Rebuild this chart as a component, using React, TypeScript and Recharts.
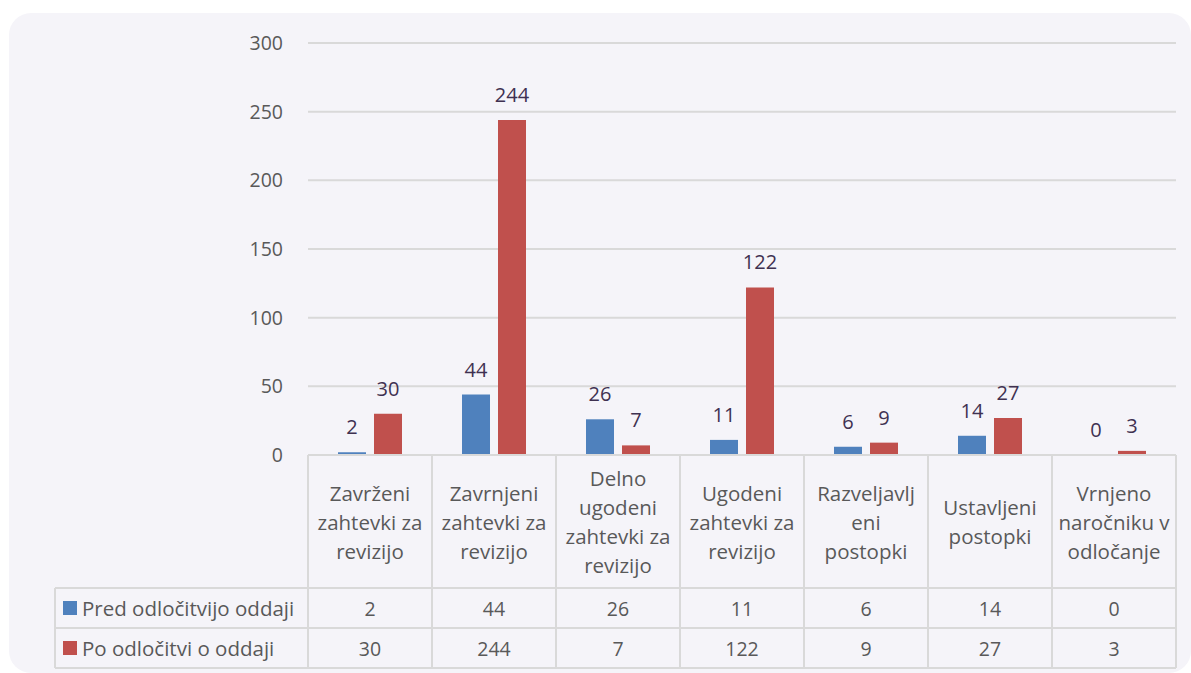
import { BarChart, Bar, XAxis, YAxis, CartesianGrid, LabelList } from 'recharts';

const categories = [
  'Zavrženi zahtevki za revizijo',
  'Zavrnjeni zahtevki za revizijo',
  'Delno ugodeni zahtevki za revizijo',
  'Ugodeni zahtevki za revizijo',
  'Razveljavljeni postopki',
  'Ustavljeni postopki',
  'Vrnjeno naročniku v odločanje',
];
// wrapped the way the original data table shows them
const tickLines = [
  ['Zavrženi', 'zahtevki za', 'revizijo'],
  ['Zavrnjeni', 'zahtevki za', 'revizijo'],
  ['Delno', 'ugodeni', 'zahtevki za', 'revizijo'],
  ['Ugodeni', 'zahtevki za', 'revizijo'],
  ['Razveljavlj', 'eni', 'postopki'],
  ['Ustavljeni', 'postopki'],
  ['Vrnjeno', 'naročniku v', 'odločanje'],
];
const predValues = [2, 44, 26, 11, 6, 14, 0];
const poValues = [30, 244, 7, 122, 9, 27, 3];
const seriesNames = ['Pred odločitvijo oddaji', 'Po odločitvi o oddaji'];
const seriesColors = ['#4F81BD', '#C0504D'];
const yTicks = [0, 50, 100, 150, 200, 250, 300];

const data = categories.map((name, i) => ({ name, pred: predValues[i], po: poValues[i] }));

const FONT = '"Open Sans", "Noto Sans", sans-serif';
const GRID = '#D9D9D9';
const TEXT = '#595959';
const LABEL_ROW = 133;
const ROW = 40;
const TABLE_LEFT = 46; // svg x of the legend column's left edge

function TableTick(props: any) {
  const { x, y, payload, index } = props;
  const half = payload?.offset ?? 62;
  const lines = tickLines[index] ?? [];
  const left = x - half;
  const right = x + half;
  const mid = y + LABEL_ROW / 2;
  const r1 = y + LABEL_ROW;
  const r2 = r1 + ROW;
  const r3 = r2 + ROW;
  const values = [predValues[index], poValues[index]];
  return (
    <g fontFamily={FONT} fill={TEXT}>
      {lines.map((t: string, i: number) => (
        <text key={i} x={x} y={mid + (i - (lines.length - 1) / 2) * 29} textAnchor="middle" dominantBaseline="central" fontSize={20.5} fill={TEXT}>
          {t}
        </text>
      ))}
      {values.map((v, i) => (
        <text key={'v' + i} x={x} y={r1 + ROW * i + ROW / 2} textAnchor="middle" dominantBaseline="central" fontSize={19.5} fill={TEXT}>
          {v}
        </text>
      ))}
      <g stroke={GRID} strokeWidth={2}>
        <line x1={right} y1={y} x2={right} y2={r3} />
        <line x1={left} y1={r1} x2={right} y2={r1} />
        <line x1={left} y1={r2} x2={right} y2={r2} />
        <line x1={left} y1={r3} x2={right} y2={r3} />
        {index === 0 && <line x1={left} y1={y} x2={left} y2={r3} />}
      </g>
      {index === 0 && (
        <g>
          <g stroke={GRID} strokeWidth={2}>
            <line x1={TABLE_LEFT} y1={r1} x2={left} y2={r1} />
            <line x1={TABLE_LEFT} y1={r2} x2={left} y2={r2} />
            <line x1={TABLE_LEFT} y1={r3} x2={left} y2={r3} />
            <line x1={TABLE_LEFT} y1={r1} x2={TABLE_LEFT} y2={r3} />
          </g>
          {seriesNames.map((n, i) => (
            <g key={n}>
              <rect x={TABLE_LEFT + 8} y={r1 + ROW * i + ROW / 2 - 7} width={14} height={14} fill={seriesColors[i]} />
              <text x={TABLE_LEFT + 27} y={r1 + ROW * i + ROW / 2} dominantBaseline="central" fontSize={20.5} fill={TEXT}>
                {n}
              </text>
            </g>
          ))}
        </g>
      )}
    </g>
  );
}

// own label renderer so that a value of 0 still gets its label
function ValueLabel(props: any) {
  const vb = props.viewBox || {};
  const x = props.x ?? vb.x;
  const y = props.y ?? vb.y;
  const width = props.width ?? vb.width ?? 0;
  if (x == null || y == null) return null;
  return (
    <text x={Number(x) + Number(width) / 2} y={Number(y) - 18} textAnchor="middle" fill="#3F3151" fontSize={20} fontFamily={FONT}>
      {String(props.value)}
    </text>
  );
}

// a zero bar still needs a (hair-thin) rectangle to carry its label
const keepZero = (v: any) => (v === 0 ? 0.01 : 0);

export default function App() {
  return (
    <div
      style={{
        position: 'absolute',
        left: 9,
        top: 13,
        width: 1182,
        height: 660,
        background: '#F5F4F9',
        borderRadius: 22,
      }}
    >
      <BarChart
        width={1182}
        height={660}
        data={data}
        margin={{ top: 30, right: 15, bottom: 5, left: 0 }}
        barCategoryGap={30}
        barGap={8}
      >
        <CartesianGrid vertical={false} stroke={GRID} strokeWidth={2} />
        <XAxis
          dataKey="name"
          interval={0}
          height={213}
          tickLine={false}
          tickSize={0}
          tickMargin={0}
          axisLine={{ stroke: GRID, strokeWidth: 2 }}
          tick={<TableTick />}
        />
        <YAxis
          width={299}
          domain={[0, 300]}
          ticks={yTicks}
          interval={0}
          tickLine={false}
          tickSize={0}
          tickMargin={25}
          axisLine={false}
          tick={{ fill: TEXT, fontSize: 19.5, fontFamily: FONT }}
        />
        <Bar dataKey="pred" name={seriesNames[0]} fill={seriesColors[0]} minPointSize={keepZero} isAnimationActive={false}>
          <LabelList dataKey="pred" content={ValueLabel} />
        </Bar>
        <Bar dataKey="po" name={seriesNames[1]} fill={seriesColors[1]} minPointSize={keepZero} isAnimationActive={false}>
          <LabelList dataKey="po" content={ValueLabel} />
        </Bar>
      </BarChart>
    </div>
  );
}
